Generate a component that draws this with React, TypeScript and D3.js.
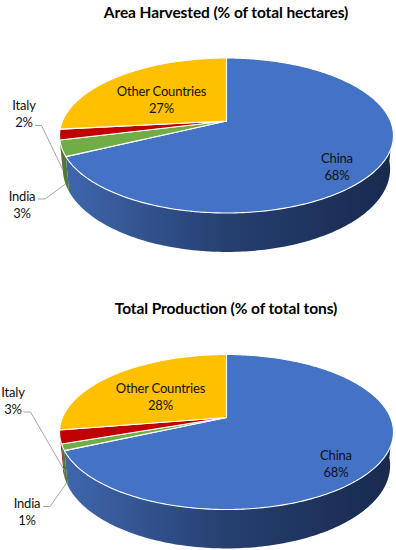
import React from 'react';
import * as d3 from 'd3';

const countries = ['China', 'India', 'Italy', 'Other Countries'];
const areaValues = [67.8, 3.3, 2.2, 26.7];
const productionValues = [68.3, 1.3, 2.8, 27.6];
const colors = ['#4472c4', '#70ad47', '#c00000', '#ffc000'];
const wallColors = ['url(#wallBlue)', '#4f7a32', '#8a0000', '#b88a00'];

const labelFont = 'Lato, sans-serif';

// Excel style perspective: the flat disc goes through a projective map
function makeProject(cx: number, apexY: number, topY: number, botY: number, halfW: number) {
  const down = botY - apexY;
  const up = apexY - topY;
  const c = (up - down) / (up + down);
  const A = down * (1 + c);
  return (angle: number) => {
    const u = Math.sin(angle);
    const v = -Math.cos(angle);
    const d = 1 + c * v;
    return [cx + (halfW * u) / d, apexY + (A * v) / d] as [number, number];
  };
}

function PieBlock({ title, values, titleY, apexY, topY, botY, labels, leaders }: any) {
  const cx = 226.5;
  const halfW = 164;
  const depth = 32.5;
  const project = makeProject(cx, apexY, topY, botY, halfW);
  const lower = (a: number) => {
    const [x, y] = project(a);
    return [cx + (x - cx) * 0.98, apexY + (y - apexY) * 1.07 + depth] as [number, number];
  };
  const arcs = d3.pie<number>().sort(null)(values);
  const line = d3.line();

  const sample = (a0: number, a1: number) => {
    const n = Math.max(2, Math.ceil((a1 - a0) * 60));
    return d3.range(n + 1).map((i) => a0 + ((a1 - a0) * i) / n);
  };

  // side wall, only the front part of the rim is visible
  const wallFrom = Math.PI * 0.53;
  const wallTo = Math.PI * 1.44;
  const walls = arcs.map((a, i) => {
    const a0 = Math.max(a.startAngle, wallFrom);
    const a1 = Math.min(a.endAngle, wallTo);
    if (a1 <= a0) return null;
    const s = sample(a0, a1);
    const pts = [...s.map(project), ...s.slice().reverse().map(lower)];
    return <path key={i} d={line(pts) + 'Z'} fill={wallColors[i]} />;
  });

  const slices = arcs.map((a, i) => {
    const pts = [[cx, apexY] as [number, number], ...sample(a.startAngle, a.endAngle).map(project)];
    return (
      <path key={i} d={line(pts) + 'Z'} fill={colors[i]} stroke="#fff" strokeWidth={1.1} strokeLinejoin="round" />
    );
  });

  return (
    <g>
      <text
        x={226}
        y={titleY}
        textAnchor="middle"
        fontFamily={labelFont}
        fontWeight={700}
        fontSize={15.5}
        letterSpacing={-0.1}
        fill="#000"
      >
        {title}
      </text>
      {walls}
      {slices}
      {leaders.map((d: [number, number][], i: number) => (
        <path key={i} d={line(d) as string} fill="none" stroke="#a6a6a6" strokeWidth={1} />
      ))}
      {labels.map((l: any) => (
        <text key={l.name} textAnchor="middle" fontFamily={labelFont} fontSize={13} letterSpacing={-0.2} fill="#111">
          <tspan x={l.x} y={l.y}>{l.name}</tspan>
          <tspan x={l.x} y={l.y + 17}>{Math.round(values[countries.indexOf(l.name)])}%</tspan>
        </text>
      ))}
    </g>
  );
}

export default function App() {
  return (
    <svg width={396} height={550} style={{ position: 'absolute', left: 0, top: 0, background: '#fff' }}>
      <defs>
        <linearGradient id="wallBlue" gradientUnits="userSpaceOnUse" x1={66} x2={392} y1={0} y2={0}>
          <stop offset="0" stopColor="#3f66ad" />
          <stop offset="0.5" stopColor="#253f6f" />
          <stop offset="1" stopColor="#182a4e" />
        </linearGradient>
      </defs>
      <PieBlock
        title="Area Harvested (% of total hectares)"
        values={areaValues}
        titleY={17.5}
        apexY={121}
        topY={58}
        botY={213}
        labels={[
          { name: 'Other Countries', x: 161.5, y: 95.5 },
          { name: 'China', x: 337, y: 163 },
          { name: 'Italy', x: 24, y: 110 },
          { name: 'India', x: 22, y: 200.5 },
        ]}
        leaders={[
          [[35, 125.5], [41.5, 125.5], [63, 170]],
          [[38, 199], [45, 199], [65.5, 184]],
        ]}
      />
      <PieBlock
        title="Total Production (% of total tons)"
        values={productionValues}
        titleY={313.5}
        apexY={417.5}
        topY={354.5}
        botY={509.5}
        labels={[
          { name: 'Other Countries', x: 160.5, y: 392.5 },
          { name: 'China', x: 336, y: 460 },
          { name: 'Italy', x: 13, y: 397 },
          { name: 'India', x: 27, y: 508 },
        ]}
        leaders={[
          [[23, 412], [30.5, 412], [65, 471.5]],
          [[43, 506.5], [50, 506.5], [66.5, 483]],
        ]}
      />
    </svg>
  );
}
